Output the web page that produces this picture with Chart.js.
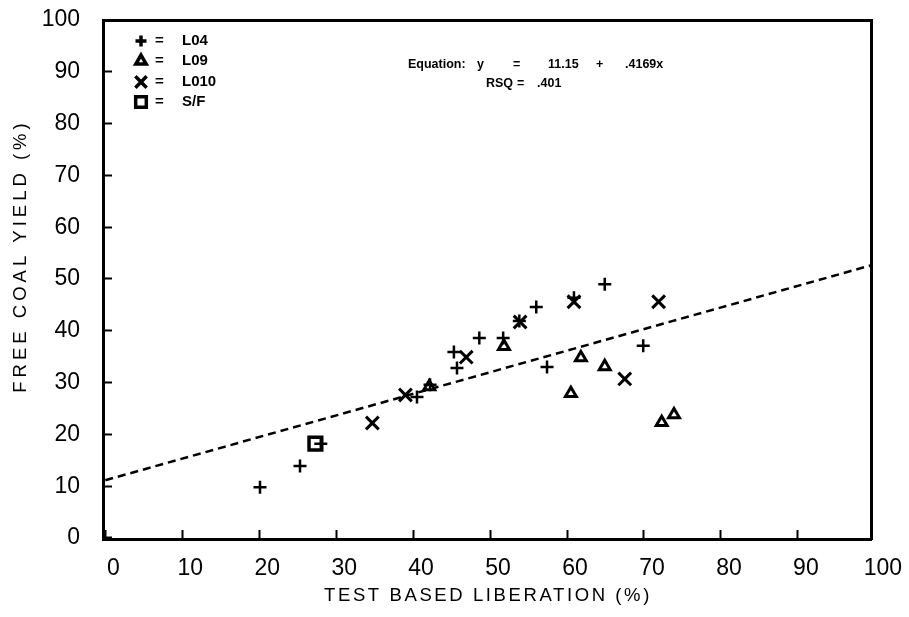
<!DOCTYPE html>
<html><head><meta charset="utf-8">
<script src="https://cdn.jsdelivr.net/npm/chart.js@4/dist/chart.umd.min.js"></script>
<style>html,body{margin:0;padding:0;background:#fff}canvas{display:block}</style>
</head><body>
<canvas id="c" width="909" height="617"></canvas>
<script>
// ---- data ----
const xTickValues = [0, 10, 20, 30, 40, 50, 60, 70, 80, 90, 100];
const yTickValues = [0, 10, 20, 30, 40, 50, 60, 70, 80, 90, 100];

const l04X = [20.1, 25.3, 28.0, 40.5, 42.2, 45.3, 45.7, 48.6, 51.7, 53.8, 56.0, 57.4, 60.9, 64.9, 69.9];
const l04Y = [9.8, 13.9, 18.2, 27.2, 29.6, 35.9, 32.8, 38.6, 38.6, 41.9, 44.6, 33.0, 46.4, 49.0, 37.1];

const l09X = [42.1, 51.8, 61.8, 64.9, 60.5, 72.3, 73.9];
const l09Y = [29.2, 37.0, 34.8, 33.1, 27.9, 22.3, 23.8];

const l010X = [34.7, 39.0, 46.9, 53.9, 60.9, 71.9, 67.5];
const l010Y = [22.2, 27.6, 34.9, 41.7, 45.6, 45.6, 30.7];

const sfX = [27.3];
const sfY = [18.2];

// fitted line from the printed equation y = 11.15 + .4169x
const fitX = [0, 100];
const fitY = [11.15, 52.84];

const seriesLabels = ['L04', 'L09', 'L010', 'S/F'];
const xTitle = 'TEST BASED LIBERATION (%)';
const yTitle = 'FREE COAL YIELD (%)';
const eqParts = ['Equation:', 'y', '=', '11.15', '+', '.4169x'];
const rsqParts = ['RSQ', '=', '.401'];

const pts = (xs, ys) => xs.map((x, i) => ({x, y: ys[i]}));
const FONT = '"Liberation Sans", Arial, sans-serif';

const styles = [
  {pointStyle: 'cross', pointRadius: 6.5, pointBorderWidth: 2.5, pointBackgroundColor: '#fff'},
  {pointStyle: 'triangle', pointRadius: 6.3, pointBorderWidth: 3, pointBackgroundColor: '#fff'},
  {pointStyle: 'crossRot', pointRadius: 9, pointBorderWidth: 3, pointBackgroundColor: '#fff'},
  {pointStyle: 'rect', pointRadius: 9, pointBorderWidth: 3.5, pointBackgroundColor: '#fff'}
];

const noPad = s => { s.paddingLeft = 0; s.paddingRight = 0; s.paddingTop = 0; s.paddingBottom = 0; };

const overlay = {
  id: 'overlay',
  afterDraw(chart) {
    const ctx = chart.ctx;
    const ca = chart.chartArea;
    ctx.save();
    ctx.fillStyle = '#000';
    ctx.strokeStyle = '#000';
    // axis titles
    ctx.textAlign = 'center';
    ctx.textBaseline = 'middle';
    ctx.font = '18.5px ' + FONT;
    ctx.letterSpacing = '2.6px';
    ctx.fillText(xTitle, (ca.left + ca.right) / 2 + 1, 596);
    ctx.save();
    ctx.translate(21, 256);
    ctx.rotate(-Math.PI / 2);
    ctx.letterSpacing = '4px';
    ctx.fillText(yTitle, 0, 0);
    ctx.restore();
    ctx.letterSpacing = '0px';

    // legend
    const rows = [41, 61, 82, 102];
    const legStyles = [
      {pointStyle: 'cross', radius: 5.5, borderWidth: 3.5},
      {pointStyle: 'triangle', radius: 6, borderWidth: 3.5},
      {pointStyle: 'crossRot', radius: 8, borderWidth: 3.5},
      {pointStyle: 'rect', radius: 7.5, borderWidth: 3.5}
    ];
    ctx.font = 'bold 15px ' + FONT;
    ctx.textAlign = 'left';
    seriesLabels.forEach((lab, i) => {
      ctx.fillStyle = '#fff';
      ctx.lineWidth = legStyles[i].borderWidth;
      Chart.helpers.drawPoint(ctx, {pointStyle: legStyles[i].pointStyle, radius: legStyles[i].radius, rotation: 0, borderWidth: legStyles[i].borderWidth}, 141, rows[i]);
      ctx.fillStyle = '#000';
      ctx.fillText('=', 155, rows[i]);
      ctx.fillText(lab, 182, rows[i]);
    });

    // equation
    ctx.font = 'bold 12.5px ' + FONT;
    const eqX = [408, 477, 513, 548, 596, 625];
    eqParts.forEach((t, i) => ctx.fillText(t, eqX[i], 65));
    const rsqX = [486, 517, 537];
    rsqParts.forEach((t, i) => ctx.fillText(t, rsqX[i], 84));
    ctx.restore();
  }
};

new Chart(document.getElementById('c'), {
  type: 'scatter',
  data: {
    datasets: [
      Object.assign({label: seriesLabels[0], data: pts(l04X, l04Y), pointBorderColor: '#000'}, styles[0]),
      Object.assign({label: seriesLabels[1], data: pts(l09X, l09Y), pointBorderColor: '#000'}, styles[1]),
      Object.assign({label: seriesLabels[2], data: pts(l010X, l010Y), pointBorderColor: '#000'}, styles[2]),
      Object.assign({label: seriesLabels[3], data: pts(sfX, sfY), pointBorderColor: '#000'}, styles[3]),
      {label: 'fit', data: pts(fitX, fitY), showLine: true, pointRadius: 0, borderColor: '#000',
       borderWidth: 2.5, borderDash: [8, 5], fill: false}
    ]
  },
  options: {
    responsive: false,
    animation: false,
    events: [],
    devicePixelRatio: 1,
    layout: {padding: {top: 20, right: 38, left: 0, bottom: 0}},
    plugins: {legend: {display: false}, tooltip: {enabled: false}},
    scales: {
      x: {
        type: 'linear', position: 'bottom', min: -0.3, max: 99.5,
        afterBuildTicks: s => { s.ticks = xTickValues.map(v => ({value: v})); },
        afterFit: s => { s.height = 78; noPad(s); },
        ticks: {autoSkip: false, maxRotation: 0, color: '#000', font: {family: FONT, size: 23}, labelOffset: 8, padding: 25,
                callback: v => String(v)},
        grid: {drawOnChartArea: false, drawTicks: true, tickLength: -9, tickWidth: 2,
               tickColor: c => (c.tick && c.tick.value > 99.5) ? 'rgba(0,0,0,0)' : '#000'},
        border: {display: true, color: '#000', width: 3}
      },
      y: {
        type: 'linear', position: 'left', min: -0.2, max: 100,
        afterBuildTicks: s => { s.ticks = yTickValues.map(v => ({value: v})); },
        afterFit: s => { s.width = 103; noPad(s); },
        ticks: {autoSkip: false, color: '#000', font: {family: FONT, size: 23}, padding: 32,
                callback: v => String(v)},
        grid: {drawOnChartArea: false, drawTicks: true, tickLength: -9, tickWidth: 2, tickColor: '#000'},
        border: {display: true, color: '#000', width: 3}
      },
      x2: {
        type: 'linear', position: 'top', min: -0.3, max: 99.5,
        afterFit: s => { s.height = 0; noPad(s); },
        ticks: {display: false}, grid: {display: false, drawTicks: false},
        border: {display: true, color: '#000', width: 3}
      },
      y2: {
        type: 'linear', position: 'right', min: -0.2, max: 100,
        afterFit: s => { s.width = 0; noPad(s); },
        ticks: {display: false}, grid: {display: false, drawTicks: false},
        border: {display: true, color: '#000', width: 3}
      }
    }
  },
  plugins: [overlay]
});
</script>
</body></html>
